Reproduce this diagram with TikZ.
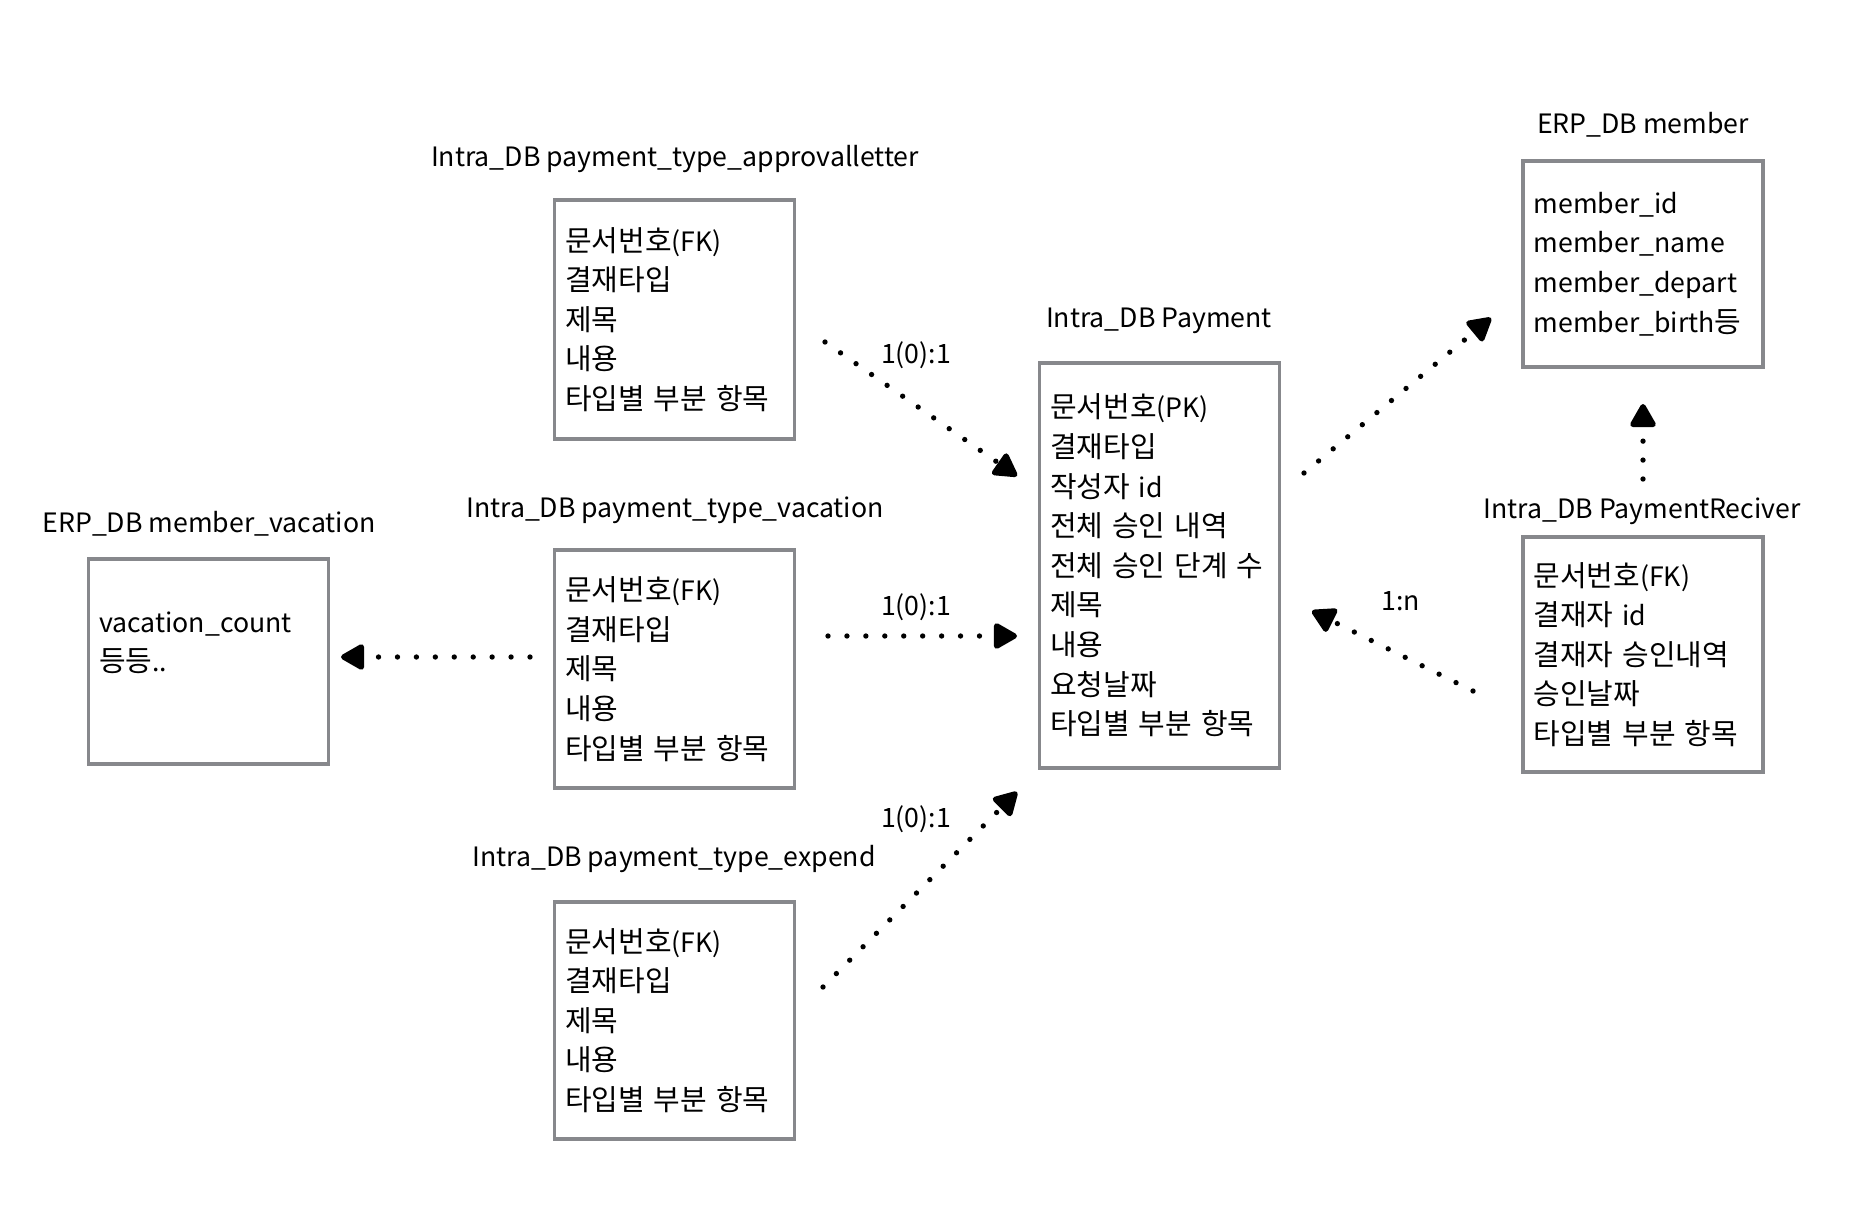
\documentclass[tikz,border=0pt]{standalone}
\usepackage{fontspec}
\setmainfont{Noto Sans CJK KR}
\newfontfamily\krf[Scale=1.085]{Noto Sans CJK KR}
\newcommand\kr[1]{{\krf #1}}
\usetikzlibrary{arrows.meta}
\definecolor{boxgray}{RGB}{135,136,140}
\begin{document}
\begin{tikzpicture}[x=0.75pt,y=-0.75pt,
  txt/.style={font=\fontsize{20pt}{29.7pt}\selectfont},
  tbl/.style={txt, draw=boxgray, line width=2.4pt, minimum width=180pt,
    text width=164pt, inner xsep=8pt, inner ysep=0pt, align=left, minimum height=#1*0.75pt},
  ttl/.style={txt, inner sep=0pt},
  lbl/.style={txt, inner sep=0pt},
  conn/.style={line width=4pt, line cap=round, dash pattern=on 0pt off 14.2pt,
    -{Triangle[length=19.5pt,width=21pt,round=false]}}]
\useasboundingbox (0,0) rectangle (1870,1228);
% tables
\node[tbl=239] (ap) at (674.5,319.5) {\kr{문서번호}(FK)\\\kr{결재타입}\\\kr{제목}\\\kr{내용}\\\kr{타입별 부분 항목}};
\node[tbl=238] (va) at (674.5,669) {\kr{문서번호}(FK)\\\kr{결재타입}\\\kr{제목}\\\kr{내용}\\\kr{타입별 부분 항목}};
\node[tbl=237] (ex) at (674.5,1020.5) {\kr{문서번호}(FK)\\\kr{결재타입}\\\kr{제목}\\\kr{내용}\\\kr{타입별 부분 항목}};
\node[tbl=205] (mv) at (208.5,661.5) {vacation\_count\\\kr{등등}..\\\mbox{}};
\node[tbl=405] (pay) at (1159.5,565.5) {\kr{문서번호}(PK)\\\kr{결재타입}\\\kr{작성자} id\\\kr{전체 승인 내역}\\\kr{전체 승인 단계 수}\\\kr{제목}\\\kr{내용}\\\kr{요청날짜}\\\kr{타입별 부분 항목}};
\node[tbl=206] (mem) at (1643,264) {member\_id\\member\_name\\member\_depart\\member\_birth\kr{등}};
\node[tbl=235] (rec) at (1643,654.5) {\kr{문서번호}(FK)\\\kr{결재자} id\\\kr{결재자 승인내역}\\\kr{승인날짜}\\\kr{타입별 부분 항목}};
% titles
\node[ttl] (apt) at (675,159.5) {Intra\_DB payment\_type\_approvalletter};
\node[ttl] (vat) at (675,510) {Intra\_DB payment\_type\_vacation};
\node[ttl] (ext) at (674,859) {Intra\_DB payment\_type\_expend};
\node[ttl] (mvt) at (209,524) {ERP\_DB member\_vacation};
\node[ttl] (payt) at (1159,321) {Intra\_DB Payment};
\node[ttl] (memt) at (1643,125) {ERP\_DB member};
\node[ttl] (rect) at (1642,511) {Intra\_DB PaymentReciver};
% connector ends
\coordinate (a1s) at (825,342);  \coordinate (a1e) at (1017,476);
\coordinate (a2s) at (828,636);  \coordinate (a2e) at (1017,636);
\coordinate (a3s) at (823,987);  \coordinate (a3e) at (1017,792);
\coordinate (a4s) at (530,657);  \coordinate (a4e) at (341,657);
\coordinate (a5s) at (1304,473); \coordinate (a5e) at (1491,318);
\coordinate (a6s) at (1473,691); \coordinate (a6e) at (1312,611);
\coordinate (a7s) at (1643,479); \coordinate (a7e) at (1643,404);
\draw[conn] (a1s) -- (a1e);
\draw[conn] (a2s) -- (a2e);
\draw[conn] (a3s) -- (a3e);
\draw[conn] (a4s) -- (a4e);
\draw[conn] (a5s) -- (a5e);
\draw[conn] (a6s) -- (a6e);
\draw[conn] (a7s) -- (a7e);
% labels
\node[lbl] (l1) at (916,355) {1(0):1};
\node[lbl] (l2) at (916,607) {1(0):1};
\node[lbl] (l3) at (916,819) {1(0):1};
\node[lbl] (l4) at (1401,601) {1:n};
\end{tikzpicture}
\end{document}
